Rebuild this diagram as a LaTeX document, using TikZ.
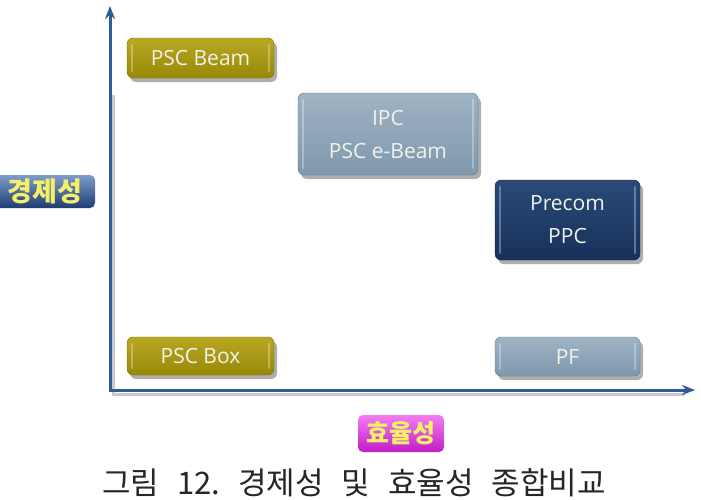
\documentclass[tikz,border=0pt]{standalone}
\usepackage{fontspec}
\setmainfont{Open Sans}
\newfontfamily\kor{Noto Sans CJK KR}
\usetikzlibrary{shadows,arrows.meta}
\definecolor{axisblue}{HTML}{2E5C99}
\definecolor{goldtop}{HTML}{B9A822}
\definecolor{goldbot}{HTML}{978807}
\definecolor{steeltop}{HTML}{9FB4C5}
\definecolor{steelbot}{HTML}{7F98AC}
\definecolor{navytop}{HTML}{2A4A78}
\definecolor{navybot}{HTML}{18305A}
\definecolor{labtop}{HTML}{7E9CCB}
\definecolor{labbot}{HTML}{1E3C70}
\definecolor{magtop}{HTML}{F47CF4}
\definecolor{magbot}{HTML}{C11CC6}
\definecolor{labtext}{HTML}{F4F06A}
\definecolor{boxtext}{HTML}{F2F2EC}
\tikzset{
  x=1pt,y=-1pt,
  boxbase/.style={rectangle,rounded corners=6pt,inner sep=0pt,align=center,
    text=boxtext,font=\fontsize{21}{33}\selectfont,
    drop shadow={shadow xshift=3pt,shadow yshift=-4pt,opacity=0.45,fill=black!70},
    path picture={
      \draw[white,opacity=0.3,line width=2.5pt,line cap=round]
        ([xshift=5pt,yshift=7pt]path picture bounding box.south west) --
        ([xshift=5pt,yshift=-7pt]path picture bounding box.north west);
      \draw[white,opacity=0.3,line width=2.5pt,line cap=round]
        ([xshift=-5pt,yshift=7pt]path picture bounding box.south east) --
        ([xshift=-5pt,yshift=-7pt]path picture bounding box.north east);
    }},
  goldbox/.style={boxbase,top color=goldtop,bottom color=goldbot,draw=goldbot!80!black,line width=0.4pt},
  steelbox/.style={boxbase,top color=steeltop,bottom color=steelbot,draw=steelbot!80!black,line width=0.4pt},
  navybox/.style={boxbase,top color=navytop,bottom color=navybot,draw=navybot!80!black,line width=0.4pt},
  axlabel/.style={rectangle,rounded corners=5pt,inner sep=0pt,text=labtext,
    font=\kor\bfseries\fontsize{25}{28}\selectfont},
  axisline/.style={draw=axisblue,line width=3pt,-{Stealth[length=13pt,width=10pt]}},
  axisshadow/.style={draw=black!35,line width=3pt,opacity=0.6}
}
\begin{document}
\begin{tikzpicture}
\useasboundingbox[fill=white] (0,0) rectangle (701,499);
% axes
\coordinate (o) at (110,390);
\coordinate (ytip) at (110,6);
\coordinate (xtip) at (695,390);
\coordinate (os) at (113,394);
\coordinate (ys) at (113,95);
\coordinate (xs) at (685,394);
\draw[axisshadow] (ys) -- (os) -- (xs);
\draw[axisline] (o) -- (ytip);
\draw[axisline] ([xshift=-1.5pt]o) -- (xtip);
% boxes
\node[goldbox,minimum width=147pt,minimum height=40pt] (beam) at (200.5,58) {PSC Beam};
\node[steelbox,minimum width=180pt,minimum height=82pt] (ipc) at (388,134) {IPC\\PSC e-Beam};
\node[navybox,minimum width=145pt,minimum height=80pt] (precom) at (567.5,220) {Precom\\PPC};
\node[goldbox,minimum width=147pt,minimum height=38pt] (box) at (200.5,356) {PSC Box};
\node[steelbox,minimum width=145pt,minimum height=39pt] (pf) at (567.5,356.5) {PF};
% axis labels
\node[axlabel,top color=labtop,bottom color=labbot,minimum width=100pt,minimum height=33pt,font=\kor\bfseries\fontsize{27}{28}\selectfont] (econ) at (45,191.5) {경제성};
\node[axlabel,top color=magtop,bottom color=magbot,minimum width=86pt,minimum height=37pt] (eff) at (401,433.5) {효율성};
% caption
\node[font=\kor\fontsize{31}{33}\selectfont,text=black!85] (cap) at (354,483) {그림\hspace{18pt}12.\hspace{18pt}경제성\hspace{18pt}및\hspace{18pt}효율성\hspace{18pt}종합비교};
\end{tikzpicture}
\end{document}
